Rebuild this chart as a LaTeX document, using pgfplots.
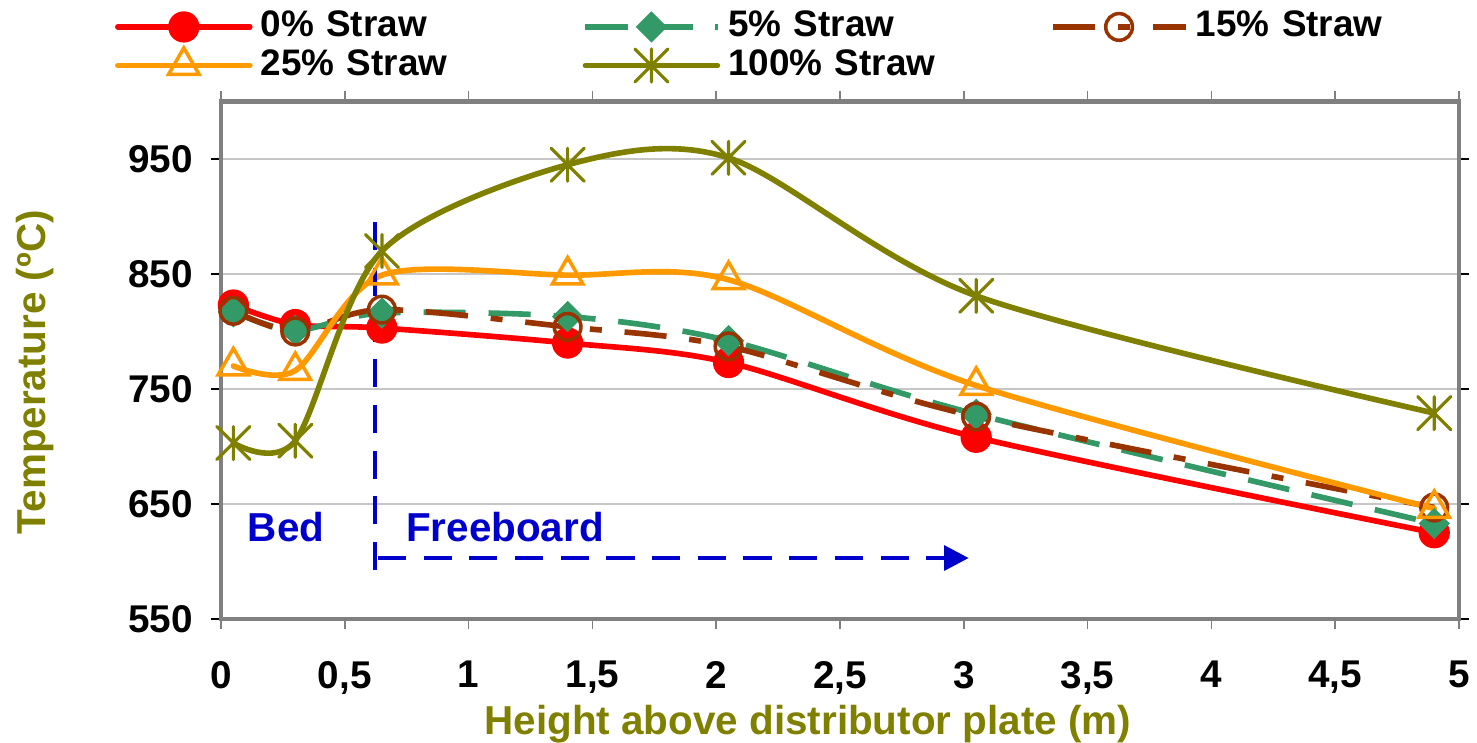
\documentclass[border=0pt]{standalone}
\usepackage{fontspec}
\setmainfont{Liberation Sans}
\usepackage{pgfplots}
\pgfplotsset{compat=1.18}
\usetikzlibrary{arrows.meta}
\definecolor{cred}{HTML}{FF0000}
\definecolor{cgreen}{HTML}{339966}
\definecolor{cbrown}{HTML}{993300}
\definecolor{corange}{HTML}{FF9900}
\definecolor{colive}{HTML}{808000}
\definecolor{cblue}{HTML}{0000CC}
\pgfdeclareplotmark{xstar}{%
  \pgfpathmoveto{\pgfqpoint{0pt}{\pgfplotmarksize}}%
  \pgfpathlineto{\pgfqpoint{0pt}{-\pgfplotmarksize}}%
  \pgfpathmoveto{\pgfqpoint{-\pgfplotmarksize}{\pgfplotmarksize}}%
  \pgfpathlineto{\pgfqpoint{\pgfplotmarksize}{-\pgfplotmarksize}}%
  \pgfpathmoveto{\pgfqpoint{-\pgfplotmarksize}{-\pgfplotmarksize}}%
  \pgfpathlineto{\pgfqpoint{\pgfplotmarksize}{\pgfplotmarksize}}%
  \pgfusepathqstroke}
\begin{document}
\begin{tikzpicture}
\useasboundingbox (0,0) rectangle (14.77,7.43);
\begin{axis}[
  at={(2.21cm,1.24cm)}, anchor=south west,
  width=12.38cm, height=5.175cm, scale only axis,
  xmin=0, xmax=5, ymin=550, ymax=1000,
  xtick={0,0.5,...,5}, ytick={550,650,750,850,950},
  /pgf/number format/assume math mode=true,
  /pgf/number format/use comma,
  xticklabel style={font=\fontsize{11}{13}\selectfont\bfseries, yshift=-0.2cm},
  yticklabel style={font=\fontsize{11}{13}\selectfont\bfseries, xshift=-0.06cm},
  tick align=outside, major tick length=0.1cm,
  xtick style={gray, line width=0.5pt},
  ytick style={black, line width=0.5pt},
  axis line style={gray, line width=1.4pt},
  ymajorgrids, major grid style={gray!45, line width=0.6pt},
  xlabel={Height above distributor plate (m)},
  ylabel={Temperature (ºC)},
  xlabel style={font=\fontsize{11.5}{13}\selectfont\bfseries, text=colive, at={(axis description cs:0.474,-0.224)}, anchor=base},
  ylabel style={font=\fontsize{11.5}{13}\selectfont\bfseries, text=colive, at={(axis description cs:-0.150,0.477)}, anchor=center, rotate=0},
  legend columns=3,
  legend cell align=left,
  legend image code/.code={\draw[mark repeat=2,mark phase=2,#1] plot coordinates {(0cm,0cm) (0.66cm,0cm) (1.32cm,0cm)};},
  legend style={at={(axis description cs:-0.0856,1.175)}, anchor=north west,
    draw=none, fill=none, inner sep=0pt, outer sep=0pt,
    font=\fontsize{10.5}{12}\selectfont\bfseries,
    row sep=0.05cm,
    /tikz/every even column/.append style={column sep=0pt},
    nodes={inner xsep=0.08cm, inner ysep=0pt, text width=3.14cm, align=left, text height=0.26cm, text depth=0.06cm}},
  every axis plot/.append style={line width=1.6pt, smooth},
  clip=false,
]
\addplot[cred, line cap=round, mark=*, mark size=4.2pt, mark options={solid, fill=cred, draw=cred, line width=0.5pt}]
  coordinates {(0.05,823) (0.3,806) (0.65,803) (1.4,790) (2.05,773) (3.05,708) (4.9,625)};
\addlegendentry{0\% Straw}
\addplot[cgreen, dash pattern=on 12pt off 6.5pt, mark=square*, mark size=2.9pt, mark options={solid, rotate=45, fill=cgreen, draw=cgreen, line width=0.5pt}]
  coordinates {(0.05,817) (0.3,801) (0.65,816) (1.4,813) (2.05,792) (3.05,728) (4.9,633)};
\addlegendentry{5\% Straw}
\addplot[cbrown, dash pattern=on 12pt off 6.5pt on 3.4pt off 6.5pt, mark=o, mark size=3.8pt, mark options={solid, draw=cbrown, line width=1pt}]
  coordinates {(0.05,818) (0.3,800) (0.65,819) (1.4,804) (2.05,787) (3.05,726) (4.9,647)};
\addlegendentry{15\% Straw}
\addplot[corange, line cap=round, mark=triangle, mark size=5pt, mark options={solid, draw=corange, line width=1pt}]
  coordinates {(0.05,770) (0.3,766) (0.65,849) (1.4,849) (2.05,845) (3.05,753) (4.9,646)};
\addlegendentry{25\% Straw}
\addplot[colive, line cap=round, mark=xstar, mark size=4.7pt, mark options={solid, draw=colive, line width=0.9pt}]
  coordinates {(0.05,703) (0.3,705) (0.65,870) (1.4,945) (2.05,951) (3.05,831) (4.9,729)};
\addlegendentry{100\% Straw}
\draw[cblue, line width=1.2pt, dash pattern=on 8pt off 5pt] (axis cs:0.622,895) -- (axis cs:0.622,583);
\draw[cblue, line width=1.2pt, dash pattern=on 8pt off 5pt, -{Triangle[length=7pt,width=7pt]}] (axis cs:0.634,603) -- (axis cs:3.02,603);
\node[cblue, font=\fontsize{11.5}{13}\selectfont\bfseries] at (axis cs:0.263,630) {Bed};
\node[cblue, font=\fontsize{11.5}{13}\selectfont\bfseries] at (axis cs:1.147,630) {Freeboard};
\end{axis}
\end{tikzpicture}
\end{document}
